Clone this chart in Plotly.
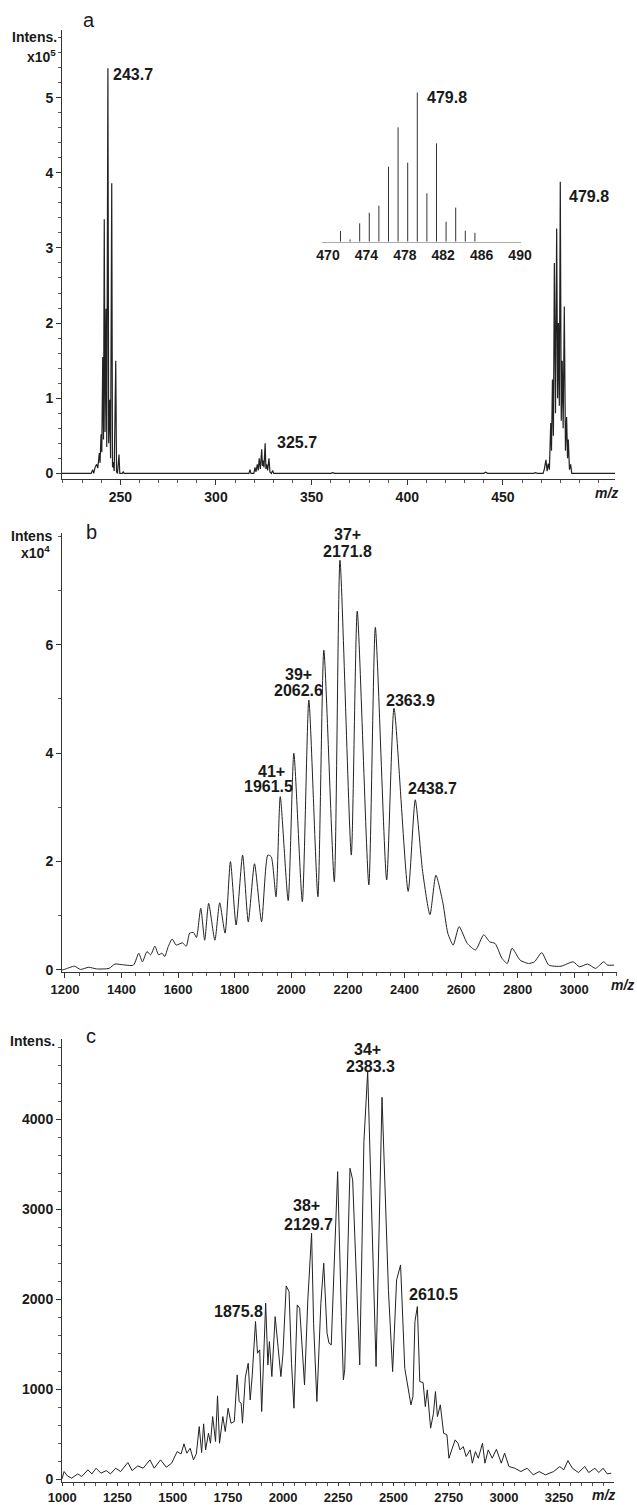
import plotly.graph_objects as go

# ---------------- data ----------------
# panel a: profile vertices (m/z, intensity x10^5)
a_mz = [219.5, 234.8, 235.5, 236.1, 236.8, 237.6, 238.2, 239.0, 239.4, 239.9, 240.3, 240.8, 241.2,
        241.6, 242.0, 242.5, 242.9, 243.5, 243.9, 244.4, 244.9, 245.5, 245.9, 246.3, 246.8, 247.6,
        248.0, 248.5, 249.3, 249.7, 251.0, 251.5, 252.0, 297.0, 298.5, 300.0, 304.0, 305.0,
        317.2, 317.8, 318.3, 319.8, 320.4, 320.9, 321.6, 322.1, 322.6, 323.2, 323.9, 324.3, 324.7,
        325.1, 325.7, 326.1, 326.5, 327.0, 327.7, 328.2, 329.0, 329.6, 330.2, 360.0, 361.0, 362.0,
        403.0, 404.5, 406.0, 440.0, 441.0, 442.0, 466.0, 467.0, 468.0, 471.0, 471.6, 472.5, 473.1,
        473.7, 474.3, 475.0, 475.4, 475.9, 476.4, 476.9, 477.5, 478.1, 478.6, 479.0, 479.5, 480.0,
        480.5, 481.0, 481.5, 482.1, 482.7, 483.3, 483.8, 484.2, 484.8, 485.4, 486.0, 508.6]
a_int = [0.0, 0.0, 0.05, 0.0, 0.08, 0.12, 0.07, 0.27, 0.14, 0.52, 0.28, 1.55, 0.45,
         3.38, 0.55, 2.19, 0.35, 5.39, 0.4, 0.98, 0.2, 3.86, 0.08, 0.15, 0.03, 1.5,
         0.02, 0.0, 0.25, 0.0, 0.0, 0.02, 0.0, 0.0, 0.01, 0.0, 0.01, 0.0,
         0.0, 0.05, 0.0, 0.0, 0.08, 0.02, 0.12, 0.04, 0.2, 0.06, 0.32, 0.1, 0.17,
         0.08, 0.40, 0.06, 0.12, 0.04, 0.2, 0.02, 0.0, 0.04, 0.0, 0.0, 0.01, 0.0,
         0.0, 0.01, 0.0, 0.0, 0.015, 0.0, 0.0, 0.01, 0.0, 0.0, 0.05, 0.18, 0.03,
         0.13, 0.05, 0.67, 0.3, 1.25, 0.5, 2.8, 0.8, 3.26, 1.0, 2.0, 0.9, 3.88,
         0.7, 1.5, 0.6, 2.22, 0.3, 0.75, 0.2, 0.45, 0.05, 0.12, 0.0, 0.0]

# inset of panel a: isotope sticks (m/z, relative intensity %)
inset_mz = [471.3, 472.3, 473.3, 474.3, 475.3, 476.3, 477.3, 478.3, 479.3, 480.3, 481.3, 482.3, 483.3, 484.3, 485.3]
inset_int = [7.2, 1.5, 12.3, 19.4, 24.1, 50.2, 76.6, 52.9, 100.0, 32.4, 65.8, 13.4, 22.8, 7.4, 6.0]
inset_ticks = [470, 474, 478, 482, 486, 490]

# panel b: profile vertices (m/z, intensity x10^4)
b_mz = [1190, 1198, 1234, 1255, 1284, 1312, 1356, 1377, 1399, 1442, 1461, 1474, 1490, 1503, 1518,
        1531, 1543, 1553, 1565, 1579, 1593, 1615, 1629, 1641, 1655, 1665, 1680, 1694, 1708, 1730,
        1747, 1766, 1785, 1805, 1828, 1848, 1870, 1895, 1917, 1929, 1946, 1961, 1989, 2009, 2039,
        2062, 2094, 2115, 2152, 2172, 2212, 2233, 2274, 2297, 2337, 2363, 2413, 2438, 2464, 2490,
        2511, 2536, 2553, 2572, 2593, 2622, 2651, 2680, 2701, 2720, 2744, 2763, 2780, 2809, 2838,
        2859, 2885, 2910, 2953, 2996, 3018, 3047, 3075, 3104, 3118, 3140]
b_int = [0.0, 0.01, 0.07, 0.01, 0.05, 0.02, 0.03, 0.11, 0.10, 0.09, 0.31, 0.15, 0.34, 0.28, 0.44,
         0.28, 0.31, 0.25, 0.43, 0.57, 0.46, 0.50, 0.44, 0.68, 0.69, 0.60, 1.14, 0.55, 1.23, 0.55,
         1.24, 0.68, 2.0, 0.83, 2.12, 0.89, 1.96, 0.89, 2.12, 2.09, 1.35, 3.2, 1.28, 4.0, 1.26,
         4.98, 1.35, 5.9, 1.63, 7.56, 2.12, 6.62, 1.57, 6.32, 1.66, 4.83, 1.45, 3.14, 1.82, 1.02,
         1.75, 1.23, 0.68, 0.46, 0.8, 0.49, 0.37, 0.65, 0.52, 0.49, 0.22, 0.12, 0.40, 0.18, 0.12,
         0.15, 0.32, 0.09, 0.07, 0.15, 0.06, 0.11, 0.03, 0.15, 0.09, 0.09]

# panel c: profile vertices (m/z, intensity)
c_mz = [998, 1008, 1023, 1042, 1070, 1088, 1116, 1134, 1153, 1175, 1199, 1218, 1242, 1264, 1297, 1316,
        1342, 1366, 1397, 1416, 1445, 1471, 1495, 1520, 1538, 1551, 1564, 1579, 1594, 1607, 1620, 1631,
        1640, 1649, 1662, 1671, 1681, 1694, 1703, 1712, 1727, 1738, 1751, 1764, 1779, 1792, 1801, 1810,
        1816, 1829, 1842, 1851, 1860, 1875, 1884, 1894, 1903, 1912, 1921, 1931, 1938, 1949, 1964, 1977,
        1990, 1999, 2014, 2027, 2038, 2049, 2064, 2075, 2088, 2097, 2112, 2129, 2138, 2153, 2171, 2184,
        2199, 2208, 2218, 2247, 2264, 2273, 2279, 2303, 2315, 2347, 2366, 2383, 2421, 2448, 2477, 2496,
        2514, 2532, 2551, 2570, 2579, 2588, 2597, 2608, 2619, 2634, 2644, 2653, 2668, 2681, 2690, 2699,
        2712, 2727, 2742, 2751, 2764, 2779, 2792, 2801, 2816, 2829, 2847, 2857, 2871, 2884, 2903, 2914,
        2929, 2947, 2966, 2988, 3003, 3023, 3049, 3077, 3105, 3133, 3160, 3188, 3225, 3253, 3271, 3290,
        3310, 3338, 3366, 3384, 3412, 3430, 3449, 3468, 3486]
c_int = [0, 85, 37, 11, 59, 30, 104, 59, 122, 67, 96, 59, 122, 85, 185, 96,
         148, 122, 215, 122, 215, 133, 178, 307, 281, 393, 289, 344, 215, 281, 585, 296,
         615, 326, 511, 400, 696, 419, 926, 400, 696, 530, 789, 622, 641, 1159, 863, 844,
         622, 1133, 1289, 881, 1148, 1752, 1400, 1437, 752, 1419, 1956, 1270, 1530, 1141, 1807, 1474,
         1141, 1381, 2148, 2085, 1289, 789, 1937, 1900, 1363, 1048, 1993, 2733, 1733, 863, 1956, 2400,
         1622, 1511, 1493, 3418, 1807, 1104, 1215, 3455, 3326, 1270, 3751, 4529, 1252, 4244, 2100, 1196,
         2215, 2381, 1233, 974, 826, 919, 1752, 1919, 1085, 1074, 807, 993, 567, 733, 974, 696,
         826, 511, 493, 233, 326, 437, 400, 326, 363, 252, 326, 178, 307, 233, 400, 178,
         326, 233, 333, 178, 289, 141, 122, 85, 122, 48, 85, 48, 85, 141, 104, 207,
         122, 74, 141, 74, 122, 74, 122, 59, 67]

# peak labels: (text, m/z, intensity)
a_labels = [("243.7", 245.0, 5.31), ("325.7", 330.8, 0.41), ("479.8", 483.5, 3.68)]
inset_labels = [("479.8", 480.1, 96.2)]
b_labels = [("37+", 2196.9, 8.03), ("2171.8", 2198.5, 7.73), ("39+", 2023.7, 5.46), ("2062.6", 2023.7, 5.15),
            ("41+", 1928.3, 3.67), ("1961.5", 1917.7, 3.39), ("2363.9", 2419.5, 4.98), ("2438.7", 2497.2, 3.34)]
c_labels = [("34+", 2380, 4770), ("2383.3", 2398, 4592), ("38+", 2108, 3037), ("2129.7", 2113, 2826),
            ("1875.8", 1796, 1859), ("2610.5", 2679, 2048)]

a_xticks = [250, 300, 350, 400, 450]
a_yticks = [0, 1, 2, 3, 4, 5]
b_xticks = [1200, 1400, 1600, 1800, 2000, 2200, 2400, 2600, 2800, 3000]
b_yticks = [0, 2, 4, 6]
c_xticks = [1000, 1250, 1500, 1750, 2000, 2250, 2500, 2750, 3000, 3250]
c_yticks = [0, 1000, 2000, 3000, 4000]

# ---------------- figure ----------------
W, H = 637, 1505
FONT = "Liberation Sans"
INK = "#1a1a1a"


def px(x):
    return x / W


def py(y):
    return 1 - y / H


def axis(domain, rng, tickvals, minor_dtick, anchor, size=14, ticklen=5, **kw):
    d = dict(domain=domain, range=rng, anchor=anchor, automargin=False, showline=True, linecolor="#333",
             linewidth=1, ticks="outside", ticklen=ticklen, tickwidth=1, tickcolor="#333", showgrid=False,
             zeroline=False, tickvals=tickvals, ticktext=[str(v) for v in tickvals],
             tickfont=dict(family=FONT, size=size, color=INK, weight="bold"),
             minor=dict(ticks="outside", ticklen=3, tickwidth=1, tickcolor="#555", dtick=minor_dtick,
                        showgrid=False))
    d.update(kw)
    return d


fig = go.Figure()
fig.add_trace(go.Scatter(x=a_mz, y=a_int, mode="lines", line=dict(color="#222", width=1.2), xaxis="x", yaxis="y"))
fig.add_trace(go.Scatter(x=b_mz, y=b_int, mode="lines", line=dict(color="#222", width=1, shape="spline", smoothing=0.6),
                         xaxis="x2", yaxis="y2"))
fig.add_trace(go.Scatter(x=c_mz, y=c_int, mode="lines", line=dict(color="#222", width=1), xaxis="x3", yaxis="y3"))

sx, sy = [], []
for m, h in zip(inset_mz, inset_int):
    sx += [m, m, None]
    sy += [0, h, None]
fig.add_trace(go.Scatter(x=sx, y=sy, mode="lines", line=dict(color="#333", width=1), xaxis="x4", yaxis="y4"))

fig.update_layout(
    template="none",
    width=W, height=H, margin=dict(l=0, r=0, t=0, b=0, autoexpand=False), showlegend=False,
    paper_bgcolor="white", plot_bgcolor="white",
    xaxis=axis([px(62), px(615)], [219.5, 508.6], a_xticks, 10, "y"),
    yaxis=axis([py(479), py(30)], [-0.075, 5.9], a_yticks, 0.2, "x"),
    xaxis2=axis([px(62), px(617)], [1189.8, 3150.9], b_xticks, 50, "y2", size=13),
    yaxis2=axis([py(972), py(532.7)], [-0.037, 8.068], b_yticks, 1, "x2"),
    xaxis3=axis([px(62), px(614)], [998.6, 3498.6], c_xticks, 50, "y3", size=13, ticklen=3),
    yaxis3=axis([py(1482), py(1039)], [-31, 4892], c_yticks, 200, "x3"),
    xaxis4=dict(domain=[px(322), px(520.5)], range=[469.375, 490.05], anchor="y4", automargin=False, showline=True,
                linecolor="#aaa", linewidth=1, ticks="", showgrid=False, zeroline=False,
                tickvals=inset_ticks, ticktext=[str(v) for v in inset_ticks],
                tickfont=dict(family=FONT, size=14, color=INK, weight="bold")),
    yaxis4=dict(domain=[py(241.7), py(92.3)], range=[0, 100], anchor="x4", visible=False, automargin=False),
)

ann = []
lab_font = dict(family=FONT, size=16, color=INK, weight="bold")
for t, x, y in a_labels:
    ann.append(dict(text=t, x=x, y=y, xref="x", yref="y", xanchor="left", yanchor="middle", showarrow=False, font=lab_font))
for t, x, y in inset_labels:
    ann.append(dict(text=t, x=x, y=y, xref="x4", yref="y4", xanchor="left", yanchor="middle", showarrow=False, font=lab_font))
for t, x, y in b_labels:
    ann.append(dict(text=t, x=x, y=y, xref="x2", yref="y2", xanchor="center", yanchor="middle", showarrow=False, font=lab_font))
for t, x, y in c_labels:
    ann.append(dict(text=t, x=x, y=y, xref="x3", yref="y3", xanchor="center", yanchor="middle", showarrow=False, font=lab_font))

side_font = dict(family=FONT, size=14, color=INK, weight="bold")
for t, xr, yc in [("Intens.", 59, 37.5), ("x10<sup>5</sup>", 58, 56), ("Intens", 54, 536), ("x10<sup>4</sup>", 52, 552),
                  ("Intens.", 57, 1041)]:
    ann.append(dict(text=t, x=px(xr), y=py(yc), xref="paper", yref="paper", xanchor="right", yanchor="middle",
                    showarrow=False, font=side_font))
for xr, yc in [(620, 493), (636, 985), (617, 1495)]:
    ann.append(dict(text="<i>m/z</i>", x=px(xr), y=py(yc), xref="paper", yref="paper", xanchor="right",
                    yanchor="middle", showarrow=False, font=side_font))
for t, xc, yc in [("a", 89, 20), ("b", 91, 532), ("c", 91, 1036)]:
    ann.append(dict(text=t, x=px(xc), y=py(yc), xref="paper", yref="paper", xanchor="center", yanchor="middle",
                    showarrow=False, font=dict(family=FONT, size=20, color=INK)))
fig.update_layout(annotations=ann)

fig.write_html("out.html", config={"displayModeBar": False},
               post_script="document.body.style.margin='0';document.body.style.padding='0';")
